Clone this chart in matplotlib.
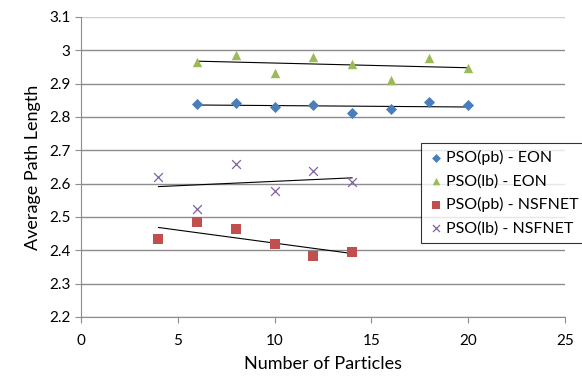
import numpy as np
import matplotlib
matplotlib.use("Agg")
import matplotlib.pyplot as plt

plt.rcParams['font.family'] = ['Lato', 'DejaVu Sans']

# data
x_eon = [6, 8, 10, 12, 14, 16, 18, 20]
pb_eon = [2.840, 2.843, 2.831, 2.835, 2.812, 2.823, 2.845, 2.835]
lb_eon = [2.965, 2.985, 2.933, 2.980, 2.960, 2.912, 2.978, 2.948]

x_nsf = [4, 6, 8, 10, 12, 14]
pb_nsf = [2.433, 2.486, 2.463, 2.418, 2.382, 2.395]
lb_nsf = [2.621, 2.525, 2.658, 2.578, 2.638, 2.606]

labels = ['PSO(pb) - EON', 'PSO(lb) - EON', 'PSO(pb) - NSFNET', 'PSO(lb) - NSFNET']

fig = plt.figure(figsize=(5.82, 3.78), dpi=100)
ax = fig.add_axes([81 / 582, 1 - 317 / 378, 484 / 582, 300 / 378])

series = [
    (x_eon, pb_eon, dict(marker='D', color='#4a7ebb', s=32, linewidths=0)),
    (x_eon, lb_eon, dict(marker='^', color='#9bbb59', s=46, linewidths=0)),
    (x_nsf, pb_nsf, dict(marker='s', color='#c0504d', s=46, linewidths=0)),
    (x_nsf, lb_nsf, dict(marker='x', color='#8064a2', s=40, linewidths=0.9)),
]

for (xs, ys, style), lab in zip(series, labels):
    ax.scatter(xs, ys, label=lab, zorder=3, **style)
    # linear trendline
    k, b = np.polyfit(xs, ys, 1)
    xt = np.array([min(xs), max(xs)])
    ax.plot(xt, k * xt + b, color='black', lw=0.8, zorder=2)

ax.set_xlim(0, 25)
ax.set_ylim(2.2, 3.1)
ax.set_xticks([0, 5, 10, 15, 20, 25])
ax.set_yticks(np.round(np.arange(2.2, 3.101, 0.1), 1))
ax.set_yticklabels(['2.2', '2.3', '2.4', '2.5', '2.6', '2.7', '2.8', '2.9', '3', '3.1'])

ax.grid(axis='y', color='#8c8c8c', lw=1.0)
ax.get_ygridlines()[-1].set_color('#cfcfcf')
ax.set_axisbelow(True)
for s in ['top', 'right']:
    ax.spines[s].set_visible(False)
for s in ['left', 'bottom']:
    ax.spines[s].set_color('#8c8c8c')
ax.tick_params(colors='#8c8c8c', labelcolor='black', labelsize=11, length=4, direction='out')
ax.tick_params(axis='x', pad=8)

ax.set_xlabel('Number of Particles', fontsize=13, labelpad=6)
ax.set_ylabel('Average Path Length', fontsize=13, labelpad=6)

leg = ax.legend(loc='upper left', bbox_to_anchor=(421 / 582, 1 - 143 / 378),
                bbox_transform=fig.transFigure, fontsize=11.5, frameon=True,
                fancybox=False, edgecolor='black', handletextpad=0.1,
                handlelength=1.0, labelspacing=0.55, borderpad=0.45,
                borderaxespad=0, markerscale=0.8)
leg.get_frame().set_linewidth(0.8)

fig.savefig('out.png', dpi=100)
